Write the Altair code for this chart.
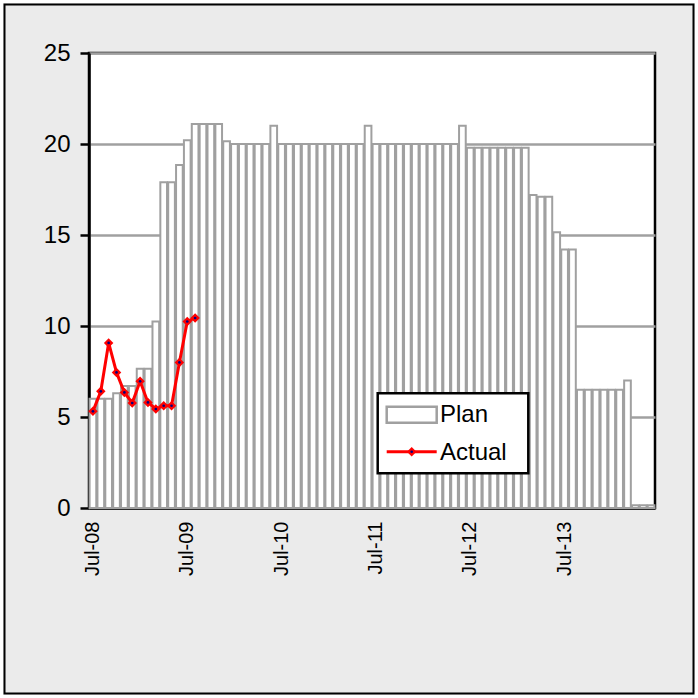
import altair as alt
import pandas as pd

# Monthly categories Jul-08 .. Jun-14
months = list(pd.period_range("2008-07", periods=72, freq="M").strftime("%Y-%m"))

plan = [6.0, 6.0, 6.0, 6.3, 6.7, 6.7, 7.65, 7.65, 10.25, 17.9, 17.9, 18.85,
        20.2, 21.1, 21.1, 21.1, 21.1, 20.15, 20.0, 20.0, 20.0, 20.0, 20.0, 21.0,
        20.0, 20.0, 20.0, 20.0, 20.0, 20.0, 20.0, 20.0, 20.0, 20.0, 20.0, 21.0,
        20.0, 20.0, 20.0, 20.0, 20.0, 20.0, 20.0, 20.0, 20.0, 20.0, 20.0, 21.0,
        19.8, 19.8, 19.8, 19.8, 19.8, 19.8, 19.8, 19.8, 17.2, 17.1, 17.1, 15.15,
        14.2, 14.2, 6.5, 6.5, 6.5, 6.5, 6.5, 6.5, 7.0, 0.15, 0.15, 0.15]

actual = [5.31, 6.41, 9.07, 7.45, 6.35, 5.77, 6.96, 5.80, 5.44, 5.62, 5.62,
          8.0, 10.25, 10.44]

tick_months = ["2008-07", "2009-07", "2010-07", "2011-07", "2012-07", "2013-07"]
y_ticks = [0, 5, 10, 15, 20, 25]

plan_df = pd.DataFrame({"month": months, "plan": plan})
act_df = pd.DataFrame({"month": months[:len(actual)], "actual": actual})
one = pd.DataFrame({"a": [0]})

FONT = "Liberation Sans"
GRAY = "#a0a0a0"

xscale = alt.Scale(domain=months, paddingInner=0.15, paddingOuter=0.075)
yscale = alt.Scale(domain=[0, 25], nice=False)

x_enc = alt.X("month:O", scale=xscale, sort=months, title=None,
              axis=alt.Axis(values=tick_months,
                            labelExpr="'Jul-' + substring(datum.value, 2, 4)",
                            labelAngle=270, labelAlign="right", labelBaseline="middle",
                            labelPadding=13, labelFontSize=20, labelFont=FONT,
                            labelColor="black", ticks=False, grid=False,
                            domainColor="black", domainWidth=2.5))
y_axis = alt.Axis(values=y_ticks, grid=True, gridColor=GRAY, gridWidth=2.5,
                  domainColor="black", domainWidth=2.5, tickColor="black",
                  tickWidth=2.5, tickSize=9, labelFontSize=24, labelFont=FONT,
                  labelColor="black", labelPadding=10)

# outer white margin + black chart border
white_ring = alt.Chart(one).mark_rect(fill=None, stroke="white", strokeWidth=10).encode(
    x=alt.value(-91), x2=alt.value(611), y=alt.value(-55), y2=alt.value(647))
border = alt.Chart(one).mark_rect(fill=None, stroke="black", strokeWidth=2).encode(
    x=alt.value(-84.5), x2=alt.value(604.5), y=alt.value(-48.5), y2=alt.value(640.5))

bars = alt.Chart(plan_df).mark_bar(fill="white", stroke=GRAY, strokeWidth=2).encode(
    x=x_enc,
    y=alt.Y("plan:Q", scale=yscale, axis=y_axis, title=None))

line = alt.Chart(act_df).mark_line(color="red", strokeWidth=3).encode(
    x=alt.X("month:O", scale=xscale, sort=months),
    y=alt.Y("actual:Q", scale=yscale))
pts = alt.Chart(act_df).mark_point(shape="diamond", filled=True, color="red",
                                   size=90, opacity=1).encode(
    x=alt.X("month:O", scale=xscale, sort=months),
    y=alt.Y("actual:Q", scale=yscale))
dots = alt.Chart(act_df).mark_point(shape="circle", filled=True, color="#000080",
                                    size=7, opacity=1).encode(
    x=alt.X("month:O", scale=xscale, sort=months),
    y=alt.Y("actual:Q", scale=yscale))

# legend
leg_box = alt.Chart(one).mark_rect(fill="white", stroke="black", strokeWidth=2.5).encode(
    x=alt.value(288.7), x2=alt.value(439.3), y=alt.value(340.3), y2=alt.value(420.3))
leg_plan = alt.Chart(one).mark_rect(fill="white", stroke=GRAY, strokeWidth=2.5).encode(
    x=alt.value(297.7), x2=alt.value(347.7), y=alt.value(353.7), y2=alt.value(369.7))
leg_plan_t = alt.Chart(one).mark_text(text="Plan", align="left", baseline="middle",
                                      fontSize=24, font=FONT, color="black").encode(
    x=alt.value(351), y=alt.value(362))
leg_act_l = alt.Chart(one).mark_rule(color="red", strokeWidth=3).encode(
    x=alt.value(297.7), x2=alt.value(347.7), y=alt.value(398.7))
leg_act_p = alt.Chart(one).mark_point(shape="diamond", filled=True, color="red",
                                      size=90, opacity=1).encode(
    x=alt.value(322.7), y=alt.value(398.7))
leg_act_d = alt.Chart(one).mark_point(shape="circle", filled=True, color="#000080",
                                      size=7, opacity=1).encode(
    x=alt.value(322.7), y=alt.value(398.7))
leg_act_t = alt.Chart(one).mark_text(text="Actual", align="left", baseline="middle",
                                     fontSize=24, font=FONT, color="black").encode(
    x=alt.value(351), y=alt.value(400))

chart = alt.layer(
    bars, line, pts, dots, white_ring, border,
    leg_box, leg_plan, leg_plan_t, leg_act_l, leg_act_p, leg_act_d, leg_act_t
).properties(
    width=566, height=455,
    autosize=alt.AutoSizeParams(type="none"),
    padding={"left": 89, "top": 53, "right": 43, "bottom": 190},
    background="#ebebeb",
).configure_view(fill="white", stroke="black", strokeWidth=2.5)

chart.save("out.html", embed_options={"renderer": "svg", "actions": False})
